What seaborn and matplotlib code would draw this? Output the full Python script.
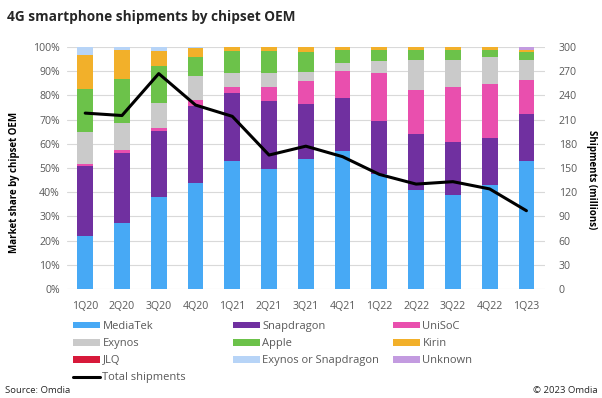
import numpy as np
import pandas as pd
import matplotlib
matplotlib.use('Agg')
import matplotlib.pyplot as plt
import seaborn as sns
from matplotlib.patches import Patch
from matplotlib.lines import Line2D
from matplotlib.ticker import PercentFormatter

# ── Data ─────────────────────────────────────────────────────────────────
quarters = ['1Q20', '2Q20', '3Q20', '4Q20', '1Q21', '2Q21', '3Q21',
            '4Q21', '1Q22', '2Q22', '3Q22', '4Q22', '1Q23']

mediatek   = [22.0, 27.1, 38.0, 43.8, 53.0, 49.5, 53.5, 57.0, 47.7, 40.8, 38.7, 43.0, 53.0]
snapdragon = [28.7, 29.2, 27.1, 31.6, 27.9, 28.2, 23.0, 22.1, 21.9, 23.2, 22.2, 19.5, 19.3]
unisoc     = [0.8, 1.1, 1.6, 2.7, 2.4, 5.6, 9.3, 11.1, 19.6, 18.3, 22.4, 22.1, 13.9]
exynos     = [13.3, 11.3, 10.1, 9.7, 5.9, 5.9, 3.8, 3.2, 4.8, 12.2, 11.4, 11.1, 8.5]
apple      = [17.8, 18.2, 15.2, 7.9, 9.0, 9.0, 8.3, 5.5, 4.9, 4.4, 3.9, 3.2, 3.1]
kirin      = [14.1, 11.7, 6.2, 3.7, 1.8, 1.8, 2.1, 1.1, 1.1, 1.1, 1.4, 1.1, 1.1]
jlq        = [0, 0, 0, 0, 0, 0, 0, 0, 0, 0, 0, 0, 0]
exy_or_snap = [3.2, 1.4, 1.8, 0.6, 0, 0, 0, 0, 0, 0, 0, 0, 0]
unknown    = [0, 0, 0, 0, 0, 0, 0, 0, 0, 0, 0, 0, 1.1]

total_shipments = [218, 215, 267, 228, 214, 166, 177, 164, 142, 130, 133, 124, 97]

oems = ['MediaTek', 'Snapdragon', 'UniSoC', 'Exynos', 'Apple', 'Kirin',
        'JLQ', 'Exynos or Snapdragon', 'Unknown']
series = [mediatek, snapdragon, unisoc, exynos, apple, kirin, jlq, exy_or_snap, unknown]
colors = ['#47A9F5', '#7030A0', '#E94FAE', '#CACACA', '#6CC24A', '#F2B02A',
          '#D7193A', '#B7D4F7', '#C39BE0']

# cumulative shares (fractions) for stacking by overlay
shares = pd.DataFrame(dict(zip(oems, series)), index=quarters) / 100.0
cum = shares.cumsum(axis=1)

# ── Figure ───────────────────────────────────────────────────────────────
sns.set_theme(style='white')
plt.rcParams['font.family'] = ['Open Sans', 'DejaVu Sans']
TXT = '#595959'

fig = plt.figure(figsize=(6.02, 3.98), dpi=100)
ax = fig.add_axes([0.111, 0.274, 0.794, 0.608])

# draw from the top of the stack down so each layer covers the one above
for oem, col in reversed(list(zip(oems, colors))):
    d = pd.DataFrame({'quarter': quarters, 'value': cum[oem].values})
    sns.barplot(data=d, x='quarter', y='value', color=col, width=0.43,
                saturation=1, linewidth=0, ax=ax, zorder=2)

ax.set_ylim(0, 1)
ax.set_xlim(-0.5, len(quarters) - 0.5)
ax.set_yticks(np.arange(0, 1.01, 0.1))
ax.yaxis.set_major_formatter(PercentFormatter(1.0, decimals=0))
ax.grid(axis='y', color='#D9D9D9', linewidth=0.8, zorder=0)
ax.set_axisbelow(True)
for s in ax.spines.values():
    s.set_visible(False)
ax.tick_params(axis='y', length=0, labelsize=7.6, labelcolor=TXT, pad=5)
ax.tick_params(axis='x', length=0, labelsize=7.6, labelcolor=TXT, pad=9)
ax.set_xlabel('')
ax.set_ylabel('Market share by chipset OEM', fontsize=7, fontweight='bold',
              color='black')
ax.yaxis.set_label_coords(-0.097, 0.44)

# total shipments on the secondary axis
ax2 = ax.twinx()
sns.lineplot(x=np.arange(len(quarters)), y=total_shipments, color='black',
             linewidth=2.2, ax=ax2, zorder=5)
ax2.set_ylim(0, 300)
ax2.set_yticks(np.arange(0, 301, 30))
for s in ax2.spines.values():
    s.set_visible(False)
ax2.tick_params(axis='y', length=0, labelsize=7.6, labelcolor=TXT, pad=10)
ax2.set_ylabel('Shipments (millions)', fontsize=7, fontweight='bold',
               color='black', rotation=-90, va='bottom')
ax2.yaxis.set_label_coords(1.087, 0.45)

# ── Legend: three single-column blocks ───────────────────────────────────
patch = {o: Patch(facecolor=c, edgecolor='none') for o, c in zip(oems, colors)}
line_h = Line2D([0], [0], color='black', linewidth=2.2)
blocks = [(['MediaTek', 'Exynos', 'JLQ', None], 73),
          (['Snapdragon', 'Apple', 'Exynos or Snapdragon'], 233),
          (['UniSoC', 'Kirin', 'Unknown'], 393)]
for names, xpix in blocks:
    handles = [line_h if o is None else patch[o] for o in names]
    labels = ['Total shipments' if o is None else o for o in names]
    leg = fig.legend(handles, labels, loc='upper left',
                     bbox_to_anchor=(xpix / 602, 1 - 321 / 398),
                     frameon=False, fontsize=8, borderpad=0,
                     handlelength=2.4, handleheight=0.55, handletextpad=0.25,
                     labelspacing=0.55, borderaxespad=0)
    for t in leg.get_texts():
        t.set_color(TXT)

# ── Titles & notes ───────────────────────────────────────────────────────
fig.text(0.012, 0.957, '4G smartphone shipments by chipset OEM',
         fontsize=9.8, fontweight='bold', va='center', ha='left')
fig.text(0.008, 0.018, 'Source: Omdia', fontsize=6.8, va='center', ha='left')
fig.text(0.993, 0.018, '\u00a9 2023 Omdia', fontsize=6.8, va='center', ha='right')

fig.savefig('out.png', dpi=100)
